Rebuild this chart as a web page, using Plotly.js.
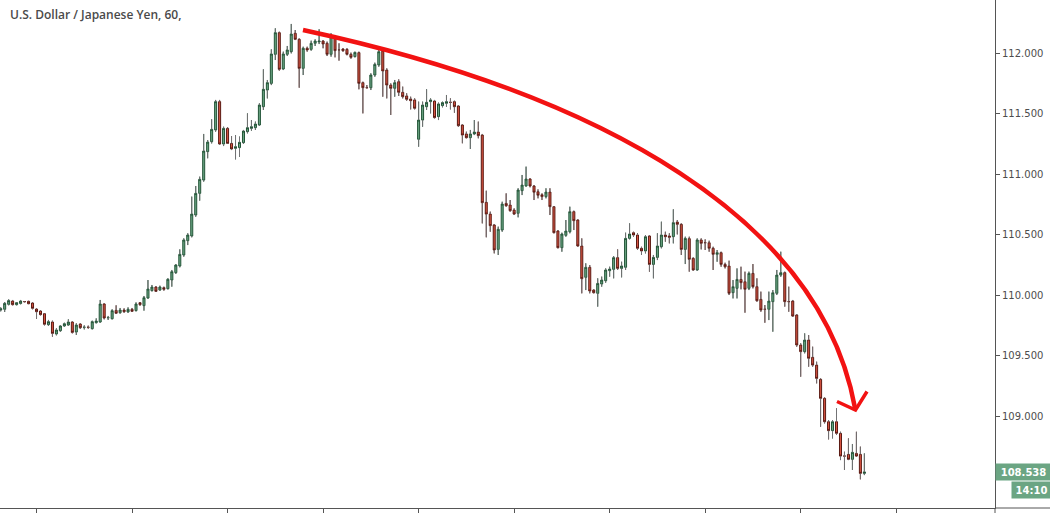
<!DOCTYPE html>
<html>
<head>
<meta charset="utf-8">
<script src="https://cdn.plot.ly/plotly-3.0.1.min.js"></script>
<style>html,body{margin:0;padding:0;background:#fff;}#chart{width:1050px;height:513px;}</style>
</head>
<body>
<div id="chart"></div>
<script>
// USD/JPY hourly candles
const open = [109.876,109.882,109.923,109.950,109.920,109.930,109.946,109.948,109.934,109.884,109.868,109.846,109.755,109.777,109.678,109.705,109.744,109.752,109.777,109.694,109.760,109.733,109.734,109.722,109.771,109.777,109.926,109.812,109.804,109.873,109.854,109.876,109.860,109.882,109.871,109.937,109.912,109.975,110.036,110.066,110.041,110.061,110.052,110.124,110.185,110.240,110.331,110.449,110.488,110.661,110.840,110.950,111.185,111.267,111.364,111.598,111.248,111.377,111.253,111.212,111.218,111.259,111.350,111.377,111.383,111.405,111.556,111.694,111.749,111.989,112.168,111.868,111.989,112.011,112.163,112.113,111.873,112.039,112.030,112.080,112.092,112.099,112.080,111.989,112.135,112.026,112.033,112.030,111.989,111.970,112.003,111.755,111.714,111.713,111.818,111.901,112.016,111.859,111.735,111.708,111.763,111.675,111.645,111.620,111.612,111.287,111.446,111.556,111.598,111.603,111.474,111.565,111.584,111.593,111.598,111.562,111.405,111.331,111.300,111.331,111.347,111.322,110.766,110.669,110.579,110.377,110.537,110.757,110.744,110.702,110.675,110.862,110.901,110.959,110.901,110.854,110.829,110.813,110.851,110.730,110.529,110.391,110.493,110.523,110.689,110.620,110.405,110.146,110.229,110.041,110.014,110.091,110.118,110.201,110.212,110.309,110.220,110.229,110.468,110.515,110.496,110.386,110.364,110.488,110.253,110.311,110.399,110.496,110.488,110.482,110.603,110.584,110.377,110.466,110.303,110.207,110.455,110.433,110.432,110.386,110.336,110.350,110.253,110.240,110.019,110.055,110.129,110.110,110.055,110.179,110.069,109.964,109.883,109.882,109.945,110.014,110.165,110.185,109.946,109.950,109.835,109.587,109.532,109.628,109.485,109.421,109.303,109.146,108.953,108.879,108.953,108.857,108.670,108.683,108.642,108.691,108.683,108.526];
const high = [109.898,109.942,109.964,109.959,109.942,109.959,109.950,109.952,109.939,109.890,109.873,109.851,109.794,109.788,109.725,109.752,109.771,109.799,109.782,109.766,109.766,109.749,109.747,109.788,109.807,109.959,109.931,109.827,109.882,109.915,109.893,109.890,109.898,109.893,109.939,109.942,109.992,110.124,110.083,110.074,110.077,110.069,110.138,110.207,110.255,110.377,110.468,110.510,110.813,110.901,110.978,111.331,111.281,111.452,111.612,111.612,111.391,111.386,111.314,111.322,111.309,111.364,111.501,111.446,111.433,111.584,111.865,111.777,112.030,112.204,112.176,112.011,112.058,112.240,112.190,112.121,112.052,112.052,112.102,112.113,112.196,112.107,112.094,112.163,112.149,112.080,112.039,112.039,112.003,112.011,112.011,111.763,111.735,111.832,111.920,112.030,112.025,111.873,111.749,111.777,111.782,111.722,111.667,111.639,111.625,111.598,111.598,111.700,111.625,111.612,111.590,111.598,111.653,111.625,111.606,111.570,111.413,111.350,111.364,111.446,111.433,111.331,110.862,110.689,110.587,110.565,110.771,110.840,110.785,110.716,110.882,110.992,111.061,110.964,110.909,110.873,110.840,110.882,110.882,110.735,110.537,110.515,110.620,110.730,110.697,110.625,110.468,110.262,110.248,110.047,110.138,110.152,110.220,110.234,110.322,110.377,110.275,110.515,110.592,110.523,110.510,110.399,110.496,110.496,110.331,110.510,110.606,110.523,110.510,110.708,110.620,110.592,110.482,110.482,110.311,110.468,110.468,110.460,110.449,110.399,110.372,110.358,110.267,110.284,110.124,110.220,110.234,110.193,110.193,110.256,110.138,110.028,109.917,110.028,110.041,110.207,110.358,110.193,110.069,109.959,109.843,109.601,109.683,109.669,109.573,109.449,109.311,109.154,108.967,108.967,109.063,108.870,108.705,108.815,108.769,108.870,108.747,108.691];
const low = [109.865,109.860,109.915,109.915,109.915,109.923,109.940,109.925,109.882,109.804,109.832,109.749,109.744,109.656,109.667,109.697,109.738,109.744,109.683,109.670,109.719,109.716,109.722,109.716,109.766,109.771,109.799,109.794,109.799,109.843,109.846,109.854,109.854,109.860,109.865,109.912,109.871,109.970,110.030,110.025,110.036,110.036,110.047,110.069,110.175,110.229,110.317,110.413,110.477,110.647,110.780,110.937,111.130,111.253,111.350,111.240,111.231,111.248,111.198,111.121,111.143,111.248,111.336,111.358,111.364,111.397,111.529,111.625,111.735,111.942,111.854,111.859,111.975,111.997,112.107,111.713,111.818,112.011,112.019,112.058,112.074,112.039,111.975,111.970,111.964,111.937,112.011,111.981,111.953,111.964,111.700,111.501,111.708,111.694,111.804,111.887,111.639,111.625,111.488,111.639,111.645,111.625,111.606,111.534,111.534,111.226,111.391,111.529,111.501,111.460,111.446,111.551,111.556,111.534,111.507,111.391,111.254,111.295,111.207,111.322,111.295,110.592,110.477,110.523,110.344,110.331,110.523,110.730,110.689,110.661,110.642,110.826,110.896,110.890,110.785,110.799,110.785,110.799,110.661,110.510,110.386,110.358,110.482,110.510,110.537,110.400,110.014,110.041,110.014,110.014,109.904,110.069,110.102,110.152,110.138,110.207,110.146,110.207,110.460,110.482,110.372,110.331,110.344,110.193,110.138,110.289,110.386,110.441,110.427,110.427,110.501,110.331,110.256,110.193,110.201,110.201,110.377,110.372,110.358,110.207,110.275,110.234,110.220,110.000,109.972,109.972,110.047,109.854,110.041,110.055,109.945,109.862,109.771,109.793,109.697,110.000,110.151,109.904,109.862,109.821,109.573,109.325,109.518,109.408,109.408,109.270,108.912,108.939,108.807,108.815,108.843,108.636,108.554,108.636,108.554,108.664,108.477,108.512];
const close = [109.887,109.931,109.954,109.920,109.937,109.950,109.945,109.928,109.890,109.862,109.838,109.758,109.780,109.683,109.711,109.744,109.763,109.777,109.691,109.752,109.730,109.734,109.733,109.780,109.785,109.926,109.810,109.813,109.871,109.849,109.876,109.862,109.882,109.865,109.926,109.920,109.978,110.050,110.066,110.030,110.066,110.047,110.130,110.193,110.248,110.336,110.455,110.496,110.669,110.840,110.956,111.190,111.264,111.369,111.598,111.248,111.377,111.253,111.207,111.226,111.262,111.355,111.383,111.391,111.413,111.570,111.700,111.755,111.992,112.168,111.865,111.992,112.025,112.157,112.113,111.873,112.039,112.025,112.080,112.099,112.099,112.074,111.989,112.135,112.019,112.025,112.019,111.989,111.964,112.005,111.749,111.713,111.713,111.818,111.906,112.011,111.851,111.735,111.708,111.755,111.675,111.639,111.617,111.606,111.543,111.446,111.570,111.592,111.612,111.466,111.579,111.590,111.598,111.592,111.556,111.399,111.322,111.300,111.331,111.347,111.317,110.763,110.669,110.573,110.372,110.543,110.752,110.738,110.697,110.669,110.868,110.909,110.959,110.901,110.849,110.824,110.813,110.851,110.730,110.515,110.391,110.504,110.529,110.689,110.614,110.405,110.135,110.229,110.033,110.019,110.096,110.124,110.207,110.215,110.309,110.220,110.240,110.468,110.504,110.496,110.386,110.364,110.482,110.253,110.311,110.405,110.496,110.482,110.477,110.598,110.584,110.377,110.468,110.295,110.207,110.455,110.427,110.432,110.386,110.336,110.350,110.253,110.234,110.014,110.069,110.129,110.102,110.047,110.179,110.069,109.953,109.876,109.882,109.950,110.019,110.165,110.185,109.945,109.945,109.826,109.587,109.532,109.628,109.477,109.421,109.311,109.146,108.953,108.879,108.953,108.857,108.669,108.669,108.642,108.700,108.669,108.526,108.538];

const yTicks = [109, 109.5, 110, 110.5, 111, 111.5, 112];
const dayTicks = [9, 33, 57, 81, 105, 129, 153, 177, 201, 225];
const lastPrice = 108.538;
const lastPriceText = '108.538';
const timerText = '14:10';
const titleText = 'U.S. Dollar / Japanese Yen, 60,';

const x = open.map((_, i) => i);

// wick segments outside the bodies (grey wicks, like the original)
const wx = [], wy = [];
for (let i = 0; i < x.length; i++) {
  const top = Math.max(open[i], close[i]);
  const bot = Math.min(open[i], close[i]);
  wx.push(x[i], x[i], null, x[i], x[i], null);
  wy.push(high[i], top, null, bot, low[i], null);
}

const candles = {
  type: 'candlestick', x: x, open: open, high: high, low: low, close: close,
  increasing: {fillcolor: '#6ba583', line: {color: '#225437', width: 1}},
  decreasing: {fillcolor: '#d75442', line: {color: '#5b1a13', width: 1}},
  whiskerwidth: 0, hoverinfo: 'skip', showlegend: false
};
const wicks = {
  type: 'scatter', mode: 'lines', x: wx, y: wy,
  line: {color: '#737375', width: 1}, hoverinfo: 'skip', showlegend: false
};

const W = 995, H = 508;
const px = v => v / W, py = v => 1 - v / H;
const arc = `M ${px(303)},${py(30)} C ${px(605)},${py(95)} ${px(821)},${py(220)} ${px(855)},${py(408)}`;
const head = `M ${px(837)},${py(401.5)} L ${px(855.5)},${py(410)} L ${px(867)},${py(391.5)}`;

const layout = {
  width: 1050, height: 513,
  margin: {l: 0, r: 55, t: 0, b: 5},
  paper_bgcolor: '#ffffff', plot_bgcolor: '#ffffff',
  showlegend: false, hovermode: false, boxgap: 0.28,
  xaxis: {
    range: [-0.176, 249.82], rangeslider: {visible: false}, fixedrange: true,
    showgrid: false, zeroline: false, showline: true, linecolor: '#555', linewidth: 1,
    ticks: 'outside', ticklen: 5, tickcolor: '#555', tickvals: dayTicks, showticklabels: false
  },
  yaxis: {
    side: 'right', range: [108.240, 112.438], fixedrange: true,
    showgrid: false, zeroline: false, showline: true, linecolor: '#555', linewidth: 1,
    ticks: 'outside', ticklen: 4, tickcolor: '#555',
    tickvals: yTicks, tickformat: '.3f',
    tickfont: {family: 'DejaVu Sans', size: 10, color: '#4d4d4d'}
  },
  shapes: [
    {type: 'path', xref: 'paper', yref: 'paper', path: arc, line: {color: '#f21212', width: 4.5}},
    {type: 'path', xref: 'paper', yref: 'paper', path: head, line: {color: '#f21212', width: 3.5}},
    {type: 'line', xref: 'paper', yref: 'paper', x0: 1, x1: 1050 / W, y0: 0, y1: 0, line: {color: '#555', width: 1}},
    {type: 'line', xref: 'paper', yref: 'paper', x0: 1, x1: 1, y0: 0, y1: -5 / H, line: {color: '#555', width: 1}}
  ],
  annotations: [
    {xref: 'paper', yref: 'paper', x: 8 / W, y: py(15), xanchor: 'left', yanchor: 'middle',
     text: titleText, showarrow: false,
     font: {family: 'Open Sans', size: 12, color: '#4a4a4a', weight: 600}},
    {xref: 'paper', yref: 'y', x: 1, y: lastPrice, xanchor: 'left', yanchor: 'middle',
     text: '<b>' + lastPriceText + '</b>', showarrow: false, bgcolor: '#6ba583',
     width: 53, height: 14, borderpad: 1, align: 'center',
     font: {family: 'DejaVu Sans', size: 10, color: '#ffffff'}},
    {xref: 'paper', yref: 'paper', x: 1011 / W, y: py(490), xanchor: 'left', yanchor: 'middle',
     text: '<b>' + timerText + '</b>', showarrow: false, bgcolor: '#6ba583',
     width: 37, height: 14, borderpad: 1, align: 'center',
     font: {family: 'DejaVu Sans', size: 10, color: '#ffffff'}}
  ]
};

Plotly.newPlot('chart', [candles, wicks], layout, {displayModeBar: false, staticPlot: true});
</script>
</body>
</html>
